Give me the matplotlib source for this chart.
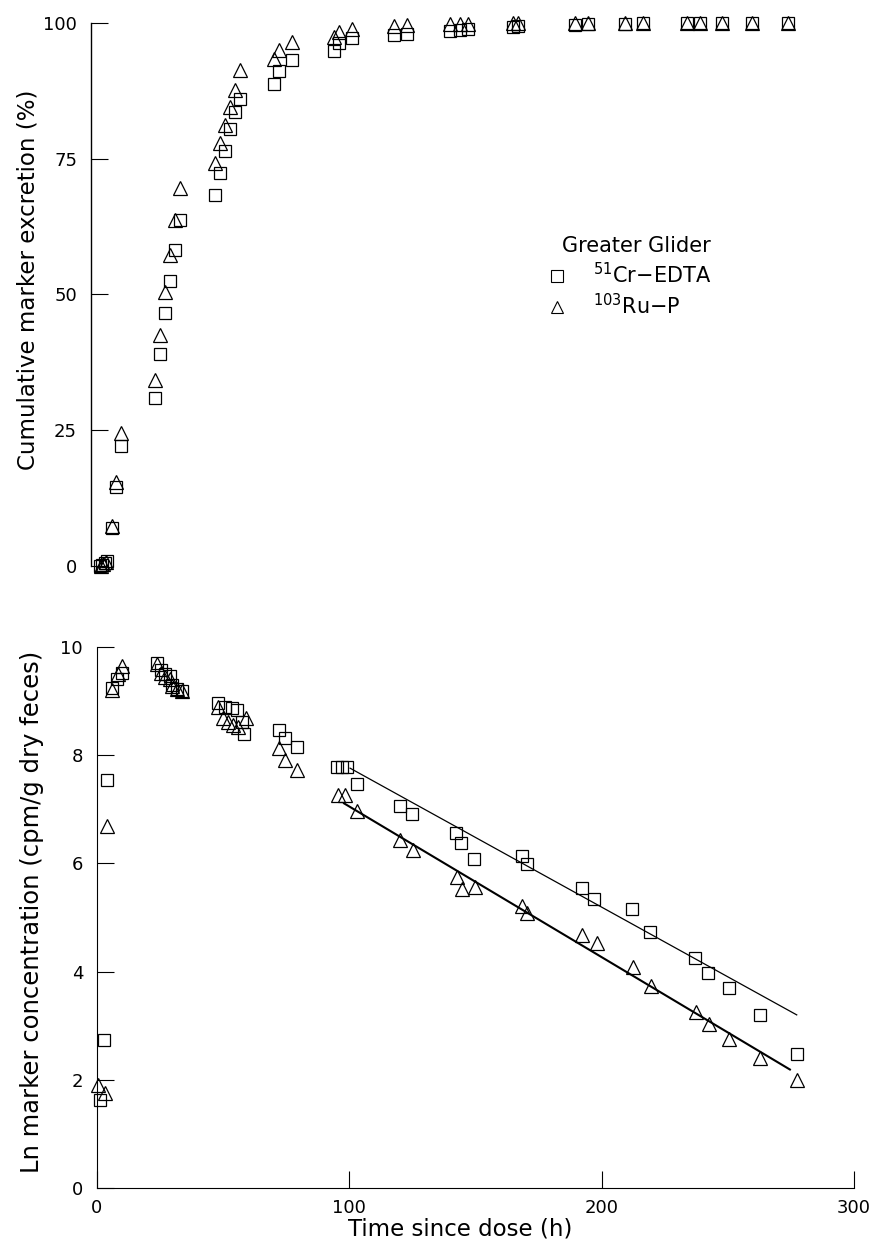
import matplotlib
matplotlib.use("Agg")
import matplotlib.pyplot as plt
from matplotlib.lines import Line2D

# cumulative excretion (%), upper panel
cr_cum_t = [1, 2, 3, 4, 5.8, 7.4, 9.4, 23.0, 25.0, 27.0, 28.9, 30.9, 32.9,
            46.8, 48.8, 50.7, 52.7, 54.7, 56.7, 70.2, 72.3, 77.2, 93.9, 95.9,
            100.9, 117.7, 122.7, 139.9, 143.9, 147.2, 165, 167, 189.5, 194.7,
            209.3, 216.5, 233.7, 238.9, 247.5, 259.4, 274.0]
cr_cum = [0.0, 0.2, 0.5, 1.0, 7.0, 14.6, 22.0, 31.0, 39.0, 46.5, 52.5, 58.2, 63.6,
          68.3, 72.4, 76.4, 80.4, 83.5, 86.0, 88.8, 91.2, 93.1, 94.7, 96.2,
          97.1, 97.7, 98.0, 98.4, 98.7, 98.9, 99.2, 99.4, 99.6, 99.7,
          99.8, 99.9, 100, 100, 100, 100, 100]
ru_cum_t = [1.5, 2.5, 3.5, 5.8, 7.4, 9.4, 23.0, 25.0, 27.0, 28.9, 30.9, 32.9,
            46.8, 48.8, 50.7, 52.7, 54.7, 56.7, 70.2, 72.3, 77.2, 93.9, 95.9,
            100.9, 117.7, 122.7, 139.9, 143.9, 147.2, 165, 167, 189.5, 194.7,
            209.3, 216.5, 233.7, 238.9, 247.5, 259.4, 274.0]
ru_cum = [0.0, 0.3, 0.8, 7.3, 15.5, 24.4, 34.2, 42.5, 50.4, 57.2, 63.7, 69.5,
          74.1, 77.8, 81.2, 84.4, 87.6, 91.3, 93.3, 95.0, 96.5, 97.3, 98.2,
          98.9, 99.4, 99.6, 99.7, 99.8, 99.8, 99.9, 99.9, 100, 100,
          100, 100, 100, 100, 100, 100, 100]

# ln concentration, lower panel
cr_ln_t = [1.2, 2.9, 4.1, 5.8, 7.8, 10.0, 23.6, 25.4, 27.0, 28.9, 29.6, 31.6, 33.6,
           47.8, 50.7, 53.4, 55.4, 57.3, 58.4, 72.3, 74.5, 79.1, 95.0, 97.0, 99.0,
           102.9, 120.1, 125.0, 142.3, 144.4, 149.5, 168.3, 170.3, 192.1, 197.0,
           212.2, 219.2, 237.0, 242.3, 250.5, 262.8, 277.3]
cr_ln = [1.63, 2.74, 7.54, 9.25, 9.40, 9.52, 9.70, 9.57, 9.50, 9.46, 9.30, 9.23, 9.18,
         8.96, 8.90, 8.87, 8.84, 8.62, 8.40, 8.47, 8.31, 8.15, 7.79, 7.79, 7.79,
         7.46, 7.07, 6.91, 6.57, 6.37, 6.08, 6.14, 5.98, 5.54, 5.34,
         5.15, 4.73, 4.26, 3.97, 3.69, 3.20, 2.48]
ru_ln_t = [0.5, 3.2, 4.1, 5.8, 8.5, 10.0, 23.6, 25.4, 27.0, 28.9, 29.6, 31.6, 33.6,
           47.8, 50.1, 52.0, 54.0, 56.0, 58.9, 72.3, 74.5, 79.1, 95.6, 98.3, 102.9,
           120.1, 125.4, 142.6, 144.5, 149.8, 168.3, 170.3, 192.1, 198.0,
           212.6, 219.6, 237.3, 242.6, 250.5, 262.8, 277.3]
ru_ln = [1.90, 1.75, 6.69, 9.20, 9.51, 9.64, 9.68, 9.52, 9.45, 9.40, 9.28, 9.22, 9.18,
         8.90, 8.68, 8.62, 8.56, 8.52, 8.68, 8.13, 7.92, 7.73, 7.26, 7.26, 6.96,
         6.43, 6.25, 5.75, 5.53, 5.56, 5.22, 5.08, 4.68, 4.52,
         4.09, 3.74, 3.26, 3.03, 2.75, 2.40, 2.00]

# fitted lines (end points)
cr_fit_t = [100.3, 277.3]
cr_fit = [7.76, 3.20]
ru_fit_t = [97.9, 274.6]
ru_fit = [7.11, 2.19]

x_ticks = [0, 100, 200, 300]
top_ticks = [0, 25, 50, 75, 100]
low_ticks = [0, 2, 4, 6, 8, 10]

plt.rcParams['font.family'] = ['DejaVu Sans']
W, H = 877, 1245
fig = plt.figure(figsize=(W / 100, H / 100), dpi=100)

sq = dict(marker='s', ms=9, mfc='none', mec='black', mew=0.9, ls='none', clip_on=False)
tri = dict(marker='^', ms=10, mfc='none', mec='black', mew=0.9, ls='none', clip_on=False)

# upper panel
ax1 = fig.add_axes([91 / W, 1 - 566 / H, (854 - 91) / W, (566 - 22.7) / H])
ax1.plot(cr_cum_t, cr_cum, **sq)
ax1.plot(ru_cum_t, ru_cum, **tri)
ax1.set_xlim(-2.4, 300)
ax1.set_ylim(0, 100)
ax1.set_yticks(top_ticks)
ax1.set_xticks([])
for s in ['top', 'right', 'bottom']:
    ax1.spines[s].set_visible(False)
ax1.spines['left'].set_linewidth(1.0)
ax1.tick_params(axis='y', direction='in', length=12, width=0.8, pad=10, labelsize=13)
ax1.set_ylabel('Cumulative marker excretion (%)', fontsize=16.5)
ax1.yaxis.set_label_coords(-(91 - 40) / (854 - 91), (566 - 280) / (566 - 22.7))

handles = [Line2D([], [], marker='s', ms=8, mfc='none', mec='black', mew=0.8, ls='none'),
           Line2D([], [], marker='^', ms=9, mfc='none', mec='black', mew=0.8, ls='none')]
labels = [r'$^{51}$Cr$-$EDTA', r'$^{103}$Ru$-$P']
leg = ax1.legend(handles, labels, title='Greater Glider', frameon=False,
                 loc='upper left', bbox_to_anchor=(528 / W, 1 - 217 / H),
                 bbox_transform=fig.transFigure, fontsize=15, title_fontsize=15,
                 handletextpad=1.2, handlelength=1.0, labelspacing=0.3,
                 alignment='right')

# lower panel
ax2 = fig.add_axes([97 / W, 1 - 1188 / H, (854 - 97) / W, (1188 - 647) / H])
ax2.plot(cr_ln_t, cr_ln, **sq)
ax2.plot(ru_ln_t, ru_ln, **tri)
ax2.plot(cr_fit_t, cr_fit, color='black', lw=0.9)
ax2.plot(ru_fit_t, ru_fit, color='black', lw=1.5)
ax2.set_xlim(0, 300)
ax2.set_ylim(0, 10)
ax2.set_xticks(x_ticks)
ax2.set_yticks(low_ticks)
for s in ['top', 'right']:
    ax2.spines[s].set_visible(False)
ax2.tick_params(axis='both', direction='in', length=12, width=0.8, labelsize=13)
ax2.tick_params(axis='y', pad=10)
ax2.tick_params(axis='x', pad=8)
ax2.set_ylabel('Ln marker concentration (cpm/g dry feces)', fontsize=17.5)
ax2.yaxis.set_label_coords(-(97 - 44) / (854 - 97), 0.51)
ax2.set_xlabel('Time since dose (h)', fontsize=16.5)
ax2.xaxis.set_label_coords((460 - 97) / (854 - 97), -(1217 - 1188) / (1188 - 647))

fig.savefig('out.png', dpi=100)
